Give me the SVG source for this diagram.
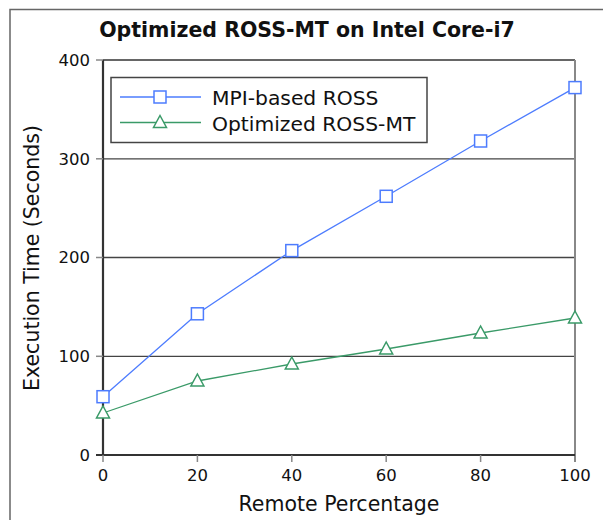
<svg xmlns="http://www.w3.org/2000/svg" width="603" height="520" viewBox="0 0 603 520">
<style>
text{font-family:"DejaVu Sans","Noto Sans",sans-serif;fill:#111}
.tick{font-size:16.5px}
.grid{stroke:#444;stroke-width:1.3}
.mpi{stroke:#4d7cfe;stroke-width:1.3;fill:none}
.opt{stroke:#3a9a68;stroke-width:1.3;fill:none}
.mk-m{fill:#fff;stroke:#4d7cfe;stroke-width:1.5}
.mk-o{fill:#fff;stroke:#3a9a68;stroke-width:1.5}
</style>
<defs>
<rect id="sq" x="-6" y="-6" width="12" height="12"/>
<path id="tri" d="M0,-7 L6.5,5 L-6.5,5 Z"/>
</defs>
<rect width="603" height="520" fill="#fff"/>
<path d="M10,520 V9.5 H603" fill="none" stroke="#666" stroke-width="1.5"/>
<text x="307" y="37" text-anchor="middle" font-size="20.5" font-weight="bold">Optimized ROSS-MT on Intel Core-i7</text>
<g id="axes">
<line class="grid" x1="103" y1="356.3" x2="575" y2="356.3" stroke="#111"/>
<line class="grid" x1="103" y1="257.5" x2="575" y2="257.5"/>
<line class="grid" x1="103" y1="158.8" x2="575" y2="158.8"/>
<line x1="103" y1="60" x2="575" y2="60" stroke="#333" stroke-width="1.5"/>
<line x1="575" y1="60" x2="575" y2="462" stroke="#888" stroke-width="2"/>
<line x1="103" y1="60" x2="103" y2="455" stroke="#333" stroke-width="2.2"/>
<line x1="96" y1="455" x2="575" y2="455" stroke="#333" stroke-width="2.2"/>
<g stroke="#888" stroke-width="1.5">
<line x1="96" y1="60" x2="103" y2="60"/>
<line x1="96" y1="158.8" x2="103" y2="158.8"/>
<line x1="96" y1="257.5" x2="103" y2="257.5"/>
<line x1="96" y1="356.3" x2="103" y2="356.3"/>
<line x1="103" y1="455" x2="103" y2="462"/>
<line x1="197.4" y1="455" x2="197.4" y2="462"/>
<line x1="291.8" y1="455" x2="291.8" y2="462"/>
<line x1="386.2" y1="455" x2="386.2" y2="462"/>
<line x1="480.6" y1="455" x2="480.6" y2="462"/>
</g>
<g class="tick" text-anchor="end">
<text x="90" y="66">400</text>
<text x="90" y="164.5">300</text>
<text x="90" y="263">200</text>
<text x="90" y="362">100</text>
<text x="90" y="461">0</text>
</g>
<g class="tick" text-anchor="middle">
<text x="103" y="481">0</text>
<text x="197.4" y="481">20</text>
<text x="291.8" y="481">40</text>
<text x="386.2" y="481">60</text>
<text x="480.6" y="481">80</text>
<text x="575" y="481">100</text>
</g>
<text x="339" y="511" text-anchor="middle" font-size="20.5">Remote Percentage</text>
<text transform="translate(39,258) rotate(-90)" text-anchor="middle" font-size="20.5">Execution Time (Seconds)</text>
</g>
<g id="series-mpi">
<polyline class="mpi" points="103,396.7 197.4,313.8 291.8,250.6 386.2,196.3 480.6,141 575,87.6"/>
<g class="mk-m">
<use href="#sq" x="103" y="396.7"/><use href="#sq" x="197.4" y="313.8"/><use href="#sq" x="291.8" y="250.6"/>
<use href="#sq" x="386.2" y="196.3"/><use href="#sq" x="480.6" y="141"/><use href="#sq" x="575" y="87.6"/>
</g>
</g>
<g id="series-opt">
<polyline class="opt" points="103,413 197.4,381 291.8,364 386.2,349 480.6,333 575,318"/>
<g class="mk-o">
<use href="#tri" x="103" y="413"/><use href="#tri" x="197.4" y="381"/><use href="#tri" x="291.8" y="364"/>
<use href="#tri" x="386.2" y="349"/><use href="#tri" x="480.6" y="333"/><use href="#tri" x="575" y="318"/>
</g>
</g>
<g id="legend">
<rect x="111" y="77.5" width="316" height="65" fill="#fff" stroke="#444" stroke-width="1.5"/>
<line class="mpi" x1="120" y1="97" x2="201" y2="97"/>
<use class="mk-m" href="#sq" x="160" y="97"/>
<line class="opt" x1="120" y1="122.5" x2="201" y2="122.5"/>
<use class="mk-o" href="#tri" x="160" y="122.5"/>
<text x="212" y="104.5" font-size="20.3">MPI-based ROSS</text>
<text x="212" y="130.5" font-size="20.3">Optimized ROSS-MT</text>
</g>
</svg>
